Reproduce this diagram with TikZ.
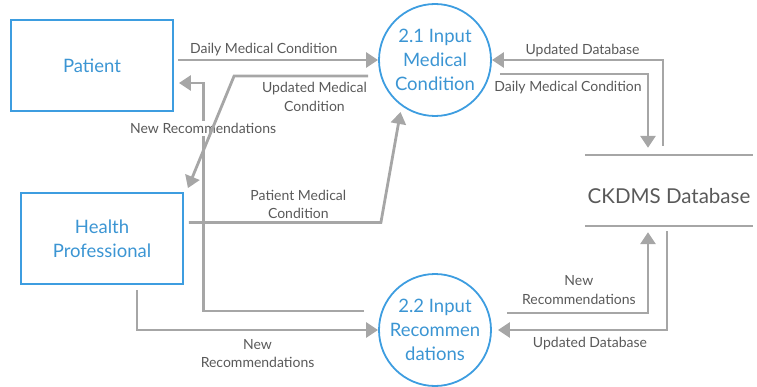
\documentclass[tikz,border=0pt]{standalone}
\usepackage{fontspec}
\setmainfont{Lato}
\usetikzlibrary{arrows.meta}
\definecolor{boxblue}{HTML}{3D9DE0}
\definecolor{textblue}{HTML}{3B95D3}
\definecolor{linegray}{HTML}{A6A6A6}
\definecolor{labelgray}{HTML}{595959}
\begin{document}
\begin{tikzpicture}[x=1pt,y=-1pt,
  entity/.style={draw=boxblue,line width=1.8pt,minimum width=162pt,minimum height=91pt,text=textblue,font=\fontsize{18.5}{24}\selectfont,align=center},
  process/.style={circle,draw=boxblue,line width=1.8pt,minimum size=112pt,inner sep=0pt,text=textblue,font=\fontsize{18.5}{24}\selectfont,align=center},
  flow/.style={draw=linegray,line width=2.8pt,-{Triangle[length=12pt,width=15pt]}},
  lbl/.style={text=labelgray,font=\fontsize{14}{18.5}\selectfont,align=center,inner sep=2pt}]
\useasboundingbox (0,0) rectangle (757,387);
\node[entity] (patient) at (92,65.5) {Patient};
\node[entity] (hp) at (102,238.5) {Health\\Professional};
\node[process] (p21) at (435,60) {2.1 Input\\Medical\\Condition};
\node[process] (p22) at (435,330) {2.2 Input\\Recommen\\dations};
\node[minimum width=168pt,minimum height=71pt,label={[yshift=-6pt,text=labelgray,font=\fontsize{20.5}{24}\selectfont]center:CKDMS Database}] (db) at (669,190.5) {};
\draw[linegray,line width=1.5pt] (db.north west) -- (db.north east);
\draw[linegray,line width=1.5pt] (db.south west) -- (db.south east);
\draw[flow,shorten <=4pt] (patient.east |- p21.west) -- node[lbl,above=1pt,pos=0.44]{Daily Medical Condition} (p21.west);
\draw[flow] ([shift={(-14,-19)}]p22.west) -- ++(-161,0) |- node[lbl,fill=white,pos=0.4]{New Recommendations} ([shift={(5,17.5)}]patient.east);
\draw[flow] ([shift={(-10,16)}]p21.west) -- node[lbl,below=3pt,pos=0.4]{Updated Medical\\Condition} ++(-134,0) -- ([shift={(4,-4)}]hp.north east);
\draw[flow,shorten >=6pt] ([shift={(5,-16)}]hp.east) -- node[lbl,above,pos=0.57]{Patient Medical\\Condition} ++(192,0) -- (p21.234);
\draw[flow] ([shift={(35,5)}]hp.south) |- node[lbl,below=6pt,pos=0.75]{New\\Recommendations} (p22.west);
\draw[flow] ([shift={(8,14)}]p21.east) -| node[lbl,below=4pt,pos=0.23]{Daily Medical Condition} ([shift={(-21,-7)}]db.north);
\draw[flow] ([shift={(-6,-9)}]db.north) |- node[lbl,above,pos=0.735]{Updated Database} (p21.east);
\draw[flow] ([shift={(15,-17)}]p22.east) -| node[lbl,above=5pt,pos=0.255]{New\\Recommendations} ([shift={(-21,6)}]db.south);
\draw[flow,shorten >=6pt] ([shift={(-2,5)}]db.south) |- node[lbl,below=4pt,pos=0.72]{Updated Database} (p22.east);
\end{tikzpicture}
\end{document}
